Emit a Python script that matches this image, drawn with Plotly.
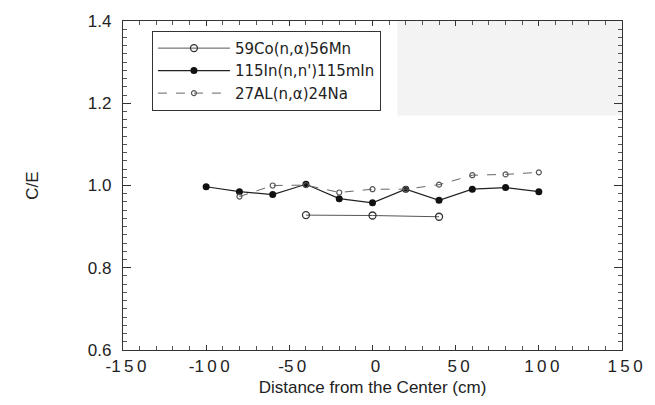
import plotly.graph_objects as go

# C/E ratios along the core axis for three activation reactions
x_co = [-40, 0, 40]
y_co = [0.928, 0.927, 0.924]

x_in = [-100, -80, -60, -40, -20, 0, 20, 40, 60, 80, 100]
y_in = [0.997, 0.985, 0.978, 1.003, 0.968, 0.958, 0.991, 0.964, 0.991, 0.995, 0.985]

x_al = [-80, -60, -40, -20, 0, 20, 40, 60, 80, 100]
y_al = [0.973, 1.000, 1.001, 0.983, 0.991, 0.991, 1.002, 1.025, 1.027, 1.032]

names = ["59Co(n,\u03b1)56Mn", "115In(n,n')115mIn", "27AL(n,\u03b1)24Na"]

x_ticks = [-150, -100, -50, 0, 50, 100, 150]
x_ticktext = ["-1\u20095\u20090", "-1\u20090\u20090", "-5\u20090", "0", "5\u20090", "1\u20090\u20090", "1\u20095\u20090"]
y_ticks = [0.6, 0.8, 1.0, 1.2, 1.4]
y_ticktext = ["0.6", "0.8", "1.0", "1.2", "1.4"]

FONT = "Liberation Sans, Arial, sans-serif"

fig = go.Figure()
fig.add_trace(go.Scatter(
    x=x_co, y=y_co, name=names[0], mode="lines+markers",
    line=dict(color="#555555", width=1),
    marker=dict(symbol="circle-open", size=7, color="#333333", line=dict(width=1.3)),
))
fig.add_trace(go.Scatter(
    x=x_in, y=y_in, name=names[1], mode="lines+markers",
    line=dict(color="#222222", width=1.2),
    marker=dict(symbol="circle", size=7, color="#111111"),
))
fig.add_trace(go.Scatter(
    x=x_al, y=y_al, name=names[2], mode="lines+markers",
    line=dict(color="#666666", width=1, dash="dash"),
    marker=dict(symbol="circle-open", size=5, color="#555555", line=dict(width=1.2)),
))

# faint grey patch in the upper right of the frame
fig.add_shape(type="rect", xref="x", yref="y", x0=15, x1=150, y0=1.17, y1=1.4,
              fillcolor="#f3f3f3", line=dict(width=0), layer="below")

axis_common = dict(showline=True, linecolor="#333333", linewidth=1.2, mirror="ticks",
                   ticks="inside", tickcolor="#333333", showgrid=False, zeroline=False,
                   tickfont=dict(family=FONT, size=17, color="#222222"))

fig.update_xaxes(range=[-150, 150], tickvals=x_ticks, ticktext=x_ticktext, ticklen=5,
                 ticklabelshift=3,
                 minor=dict(dtick=10, ticks="inside", ticklen=4, tickcolor="#555555"),
                 title=dict(text="Distance from the Center (cm)",
                            font=dict(family=FONT, size=17, color="#222222"), standoff=6),
                 **axis_common)
fig.update_yaxes(range=[0.6, 1.4], tickvals=y_ticks, ticktext=y_ticktext, ticklen=8,
                 ticklabelstandoff=7,
                 minor=dict(dtick=0.02, ticks="inside", ticklen=4, tickcolor="#555555"),
                 title=dict(text="C/E", font=dict(family=FONT, size=17, color="#222222"), standoff=44),
                 **axis_common)

fig.update_layout(
    width=655, height=405,
    margin=dict(l=123, r=30, t=20, b=53),
    plot_bgcolor="white", paper_bgcolor="white",
    showlegend=True,
    legend=dict(x=0.058, y=0.97, xanchor="left", yanchor="top",
                bordercolor="#333333", borderwidth=1, bgcolor="white",
                font=dict(family="DejaVu Sans, sans-serif", size=15, color="#222222"),
                itemwidth=72, tracegroupgap=0),
)

fig.write_html("out.html")
